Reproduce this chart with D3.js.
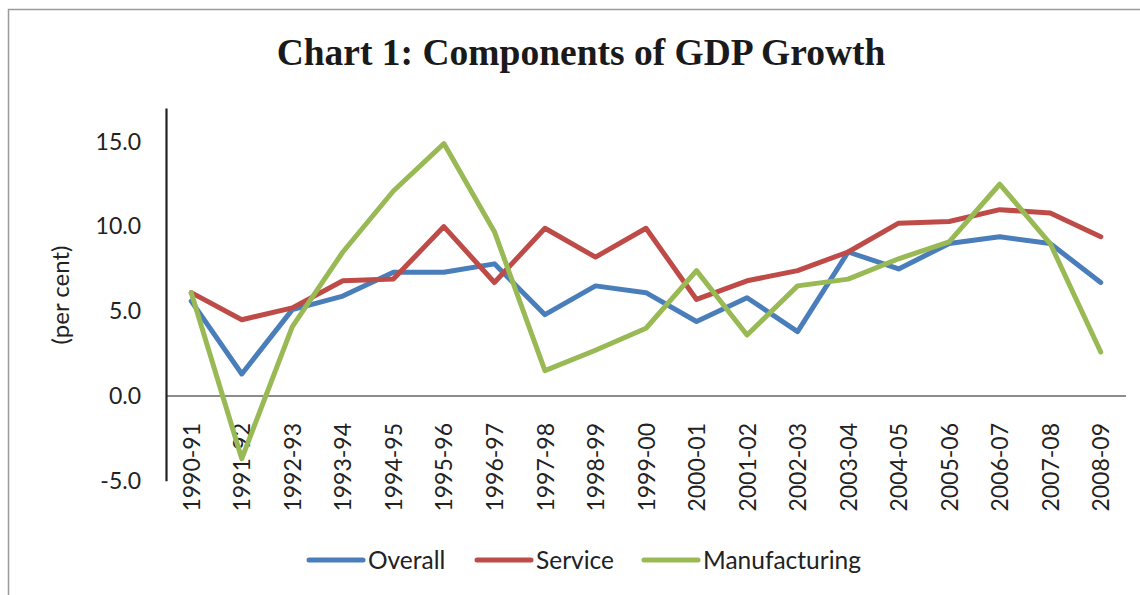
<!DOCTYPE html>
<html>
<head>
<meta charset="utf-8">
<script src="https://cdn.jsdelivr.net/npm/d3@7/dist/d3.min.js"></script>
<style>
  html, body { margin: 0; padding: 0; background: #fff; }
  svg { display: block; }
</style>
</head>
<body>
<svg id="chart" width="1140" height="595"></svg>
<script>
// Annual growth rates, per cent
const years = ["1990-91","1991-92","1992-93","1993-94","1994-95","1995-96","1996-97",
  "1997-98","1998-99","1999-00","2000-01","2001-02","2002-03","2003-04","2004-05",
  "2005-06","2006-07","2007-08","2008-09"];
const overall = [5.6, 1.3, 5.1, 5.9, 7.3, 7.3, 7.8, 4.8, 6.5, 6.1, 4.4, 5.8, 3.8, 8.5, 7.5, 9.0, 9.4, 9.0, 6.7];
const service = [6.1, 4.5, 5.2, 6.8, 6.9, 10.0, 6.7, 9.9, 8.2, 9.9, 5.7, 6.8, 7.4, 8.5, 10.2, 10.3, 11.0, 10.8, 9.4];
const manufacturing = [6.1, -3.7, 4.1, 8.5, 12.1, 14.9, 9.7, 1.5, 2.7, 4.0, 7.4, 3.6, 6.5, 6.9, 8.1, 9.1, 12.5, 9.0, 2.6];
const yTicks = [-5, 0, 5, 10, 15];

const seriesNames = ["Overall", "Service", "Manufacturing"];
const seriesColors = ["#4a7ebb", "#be4b48", "#98b954"];
const seriesValues = [overall, service, manufacturing];

const svg = d3.select("#chart");
const labelFont = "Lato, 'Open Sans', sans-serif";

// Outer frame
svg.append("rect")
  .attr("x", 8.5).attr("y", 9.5)
  .attr("width", 1140).attr("height", 600)
  .attr("fill", "none").attr("stroke", "#9a9a9a").attr("stroke-width", 1.5);

// Title
svg.append("text")
  .attr("x", 581).attr("y", 65)
  .attr("text-anchor", "middle")
  .attr("font-family", "'Liberation Serif', 'Times New Roman', serif")
  .attr("font-weight", "bold")
  .attr("font-size", 37.5)
  .attr("fill", "#1a1a1a")
  .text("Chart 1: Components of GDP Growth");

const x = d3.scalePoint().domain(years).range([166, 1126]).padding(0.5);
const y = d3.scaleLinear().domain([-5, 17]).range([480.7, 108]);

// Zero line
svg.append("line")
  .attr("x1", 166).attr("x2", 1126)
  .attr("y1", y(0)).attr("y2", y(0))
  .attr("stroke", "#8c8c8c").attr("stroke-width", 2);

// Y axis (plain hyphen for negatives)
const fmt = d3.format(".1f");
const yAxis = svg.append("g")
  .attr("transform", "translate(166,0)")
  .call(d3.axisLeft(y).tickValues(yTicks).tickSize(0).tickPadding(25)
    .tickFormat(d => fmt(d).replace("\u2212", "-")));
yAxis.select(".domain").attr("stroke", "#222").attr("stroke-width", 2.2);
yAxis.selectAll("text")
  .attr("font-family", labelFont).attr("font-size", 23).attr("fill", "#222");

// X axis labels, rotated
const xAxis = svg.append("g")
  .attr("transform", `translate(0,${y(0)})`)
  .call(d3.axisBottom(x).tickSize(0).tickPadding(0));
xAxis.select(".domain").remove();
xAxis.selectAll("text")
  .attr("font-family", labelFont).attr("font-size", 23).attr("fill", "#222")
  .attr("transform", "translate(0,27) rotate(-90)")
  .attr("text-anchor", "end")
  .attr("dx", 0).attr("dy", "0.35em").attr("y", 0);

// Y axis title
svg.append("text")
  .attr("transform", "translate(69,295) rotate(-90)")
  .attr("text-anchor", "middle")
  .attr("font-family", labelFont).attr("font-size", 24).attr("fill", "#222")
  .text("(per cent)");

// Lines
const line = d3.line()
  .x((d, i) => x(years[i]))
  .y(d => y(d));

svg.append("g").selectAll("path")
  .data(seriesValues)
  .join("path")
  .attr("d", line)
  .attr("fill", "none")
  .attr("stroke", (d, i) => seriesColors[i])
  .attr("stroke-width", 5)
  .attr("stroke-linejoin", "round")
  .attr("stroke-linecap", "round");

// Legend
const legendX = [309, 477, 644];
const legend = svg.append("g").selectAll("g")
  .data(seriesNames)
  .join("g")
  .attr("transform", (d, i) => `translate(${legendX[i]},560)`);
legend.append("line")
  .attr("x1", 0).attr("x2", 54)
  .attr("stroke", (d, i) => seriesColors[i])
  .attr("stroke-width", 5).attr("stroke-linecap", "round");
legend.append("text")
  .attr("x", 59).attr("dy", "0.35em")
  .attr("font-family", labelFont).attr("font-size", 24.5).attr("fill", "#222")
  .text(d => d);
</script>
</body>
</html>
